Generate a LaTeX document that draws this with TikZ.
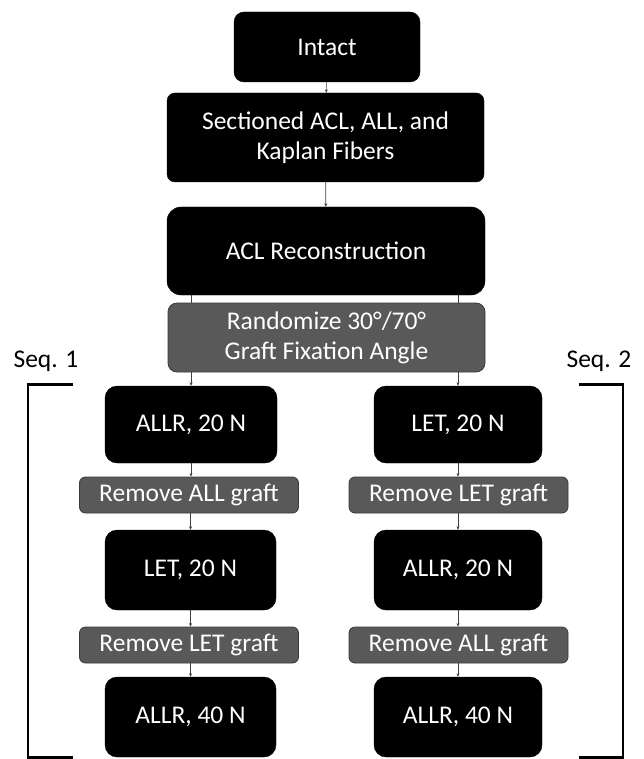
\documentclass[tikz,border=0pt]{standalone}
\usepackage{fontspec}
\setmainfont{Carlito}
\usetikzlibrary{arrows.meta,backgrounds}
\definecolor{grayfill}{HTML}{595959}
\definecolor{grayedge}{HTML}{3A3A3A}
\tikzset{
  blackbox/.style={draw=black,fill=black,text=white,rounded corners=10pt,minimum width=#1,align=center,inner sep=0pt,font=\fontsize{25.5}{30}\selectfont},
  graybox/.style={draw=grayedge,line width=0.8pt,fill=grayfill,text=white,rounded corners=6pt,minimum width=#1,align=center,inner sep=0pt,font=\fontsize{25.5}{30}\selectfont},
  conn/.style={draw=black!75,line width=0.6pt,-{Stealth[length=3.5pt,width=3pt]}},
  bracket/.style={draw=black,line width=2.6pt},
  seqlabel/.style={font=\fontsize{25.5}{30}\selectfont,inner sep=0pt}
}
\begin{document}
\begin{tikzpicture}[x=1pt,y=-1pt]
\useasboundingbox (0,0) rectangle (644,759);
% top chain
\node[blackbox=186pt,minimum height=70pt] (intact) at (327,47) {Intact};
\node[blackbox=317pt,minimum height=89pt,rounded corners=8pt] (sect) at (325.5,137.5) {Sectioned ACL, ALL, and\\Kaplan Fibers};
\node[blackbox=318pt,minimum height=88pt,rounded corners=14pt] (aclr) at (326,251) {ACL Reconstruction};
\node[graybox=317pt,minimum height=69pt,rounded corners=9pt] (rand) at (326.5,337.5) {Randomize 30°/70°\\Graft Fixation Angle};
% left column
\node[blackbox=172pt,minimum height=77pt,rounded corners=12pt] (l1) at (191,424.5) {ALLR, 20 N};
\node[graybox=219pt,minimum height=36pt] (l2) at (189,495) {Remove ALL graft};
\node[blackbox=171pt,minimum height=80pt,rounded corners=12pt] (l3) at (190.5,570) {LET, 20 N};
\node[graybox=219pt,minimum height=36pt] (l4) at (189,645) {Remove LET graft};
\node[blackbox=171pt,minimum height=80pt,rounded corners=12pt] (l5) at (190.5,717) {ALLR, 40 N};
% right column
\node[blackbox=168pt,minimum height=77pt,rounded corners=12pt] (r1) at (458,424.5) {LET, 20 N};
\node[graybox=219pt,minimum height=36pt] (r2) at (458.5,495) {Remove LET graft};
\node[blackbox=168pt,minimum height=80pt,rounded corners=12pt] (r3) at (458,570) {ALLR, 20 N};
\node[graybox=219pt,minimum height=36pt] (r4) at (458.5,645) {Remove ALL graft};
\node[blackbox=168pt,minimum height=80pt,rounded corners=12pt] (r5) at (458,717) {ALLR, 40 N};
% connectors
\begin{scope}[on background layer]
\draw[conn] (intact) -- (sect);
\draw[conn] (sect) -- (aclr);
\draw[conn] (aclr.south -| l1.north) -- (l1.north);
\draw[conn] (aclr.south -| r1.north) -- (r1.north);
\draw[conn] (l1.south) -- (l2.north -| l1.south);
\draw[conn] (l2.south -| l3.north) -- (l3.north);
\draw[conn] (l3.south) -- (l4.north -| l3.south);
\draw[conn] (l4.south -| l5.north) -- (l5.north);
\draw[conn] (r1.south) -- (r2.north -| r1.south);
\draw[conn] (r2.south -| r3.north) -- (r3.north);
\draw[conn] (r3.south) -- (r4.north -| r3.south);
\draw[conn] (r4.south -| r5.north) -- (r5.north);
\end{scope}
% sequence brackets
\node[seqlabel] (seq1) at (46,361) {Seq. 1};
\node[seqlabel] (seq2) at (599,361) {Seq. 2};
\coordinate (b1a) at (73,384.5);
\coordinate (b1b) at (28,384.5);
\coordinate (b1c) at (28,757.5);
\coordinate (b1d) at (73,757.5);
\draw[bracket] (b1a) -- (b1b) -- (b1c) -- (b1d);
\coordinate (b2a) at (579,384.5);
\coordinate (b2b) at (623,384.5);
\coordinate (b2c) at (623,757.5);
\coordinate (b2d) at (579,757.5);
\draw[bracket] (b2a) -- (b2b) -- (b2c) -- (b2d);
\end{tikzpicture}
\end{document}
